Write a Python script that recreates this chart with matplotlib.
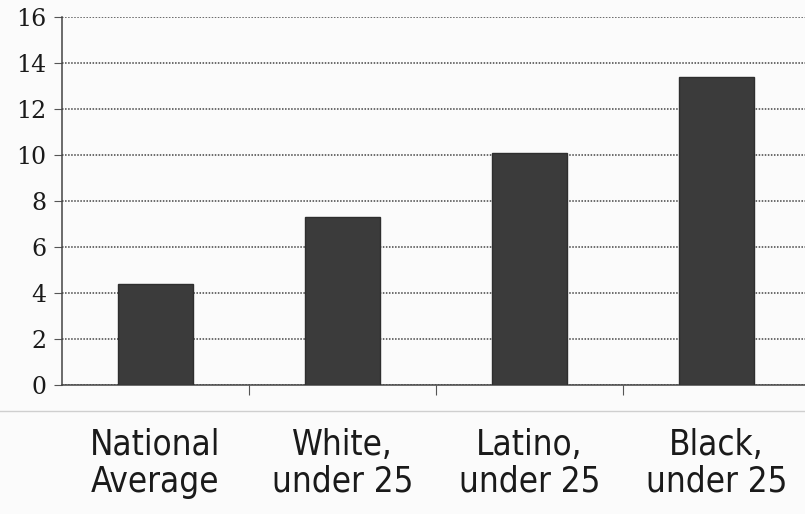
import matplotlib.pyplot as plt
from matplotlib.lines import Line2D

# data
groups = ['National\nAverage', 'White,\nunder 25', 'Latino,\nunder 25', 'Black,\nunder 25']
rates = [4.4, 7.3, 10.1, 13.4]
y_ticks = [0, 2, 4, 6, 8, 10, 12, 14, 16]

fig = plt.figure(figsize=(8.05, 5.14), dpi=100, facecolor='#fbfbfb')
ax = fig.add_axes([0.077, 0.251, 0.929, 0.716])
ax.set_facecolor('#fbfbfb')

x = list(range(len(groups)))
ax.bar(x, rates, width=0.4, color='#3b3b3b', edgecolor='#2e2e2e', zorder=3)

ax.set_xlim(-0.5, 3.5)
ax.set_ylim(0, 16)
ax.set_yticks(y_ticks)
ax.set_yticklabels([str(v) for v in y_ticks], family='DejaVu Serif', fontsize=17,
                   color='#1a1a1a')
ax.yaxis.grid(True, linestyle=(0, (1, 1)), color='#444444', linewidth=1.1, zorder=0)

# tick marks sit between the categories
ax.set_xticks([0.5, 1.5, 2.5])
ax.set_xticklabels([])
ax.tick_params(axis='x', length=7, direction='out', color='#555555')
ax.tick_params(axis='y', length=6, direction='out', color='#555555', pad=5)

for s in ['top', 'right']:
    ax.spines[s].set_visible(False)
for s in ['left', 'bottom']:
    ax.spines[s].set_linestyle((0, (1, 1)))
    ax.spines[s].set_color('#444444')
    ax.spines[s].set_linewidth(1.1)

for xi, name in zip(x, groups):
    ax.text(xi, -1.85, name, ha='center', va='top', fontsize=25,
            family='DejaVu Sans', fontstretch='condensed', linespacing=1.12,
            color='#1a1a1a', clip_on=False)

# faint page edge seen in the scan
fig.add_artist(Line2D([0, 1], [0.2, 0.2], color='#cfcfcf', linewidth=1))

fig.savefig('out.png', dpi=100, facecolor=fig.get_facecolor())
